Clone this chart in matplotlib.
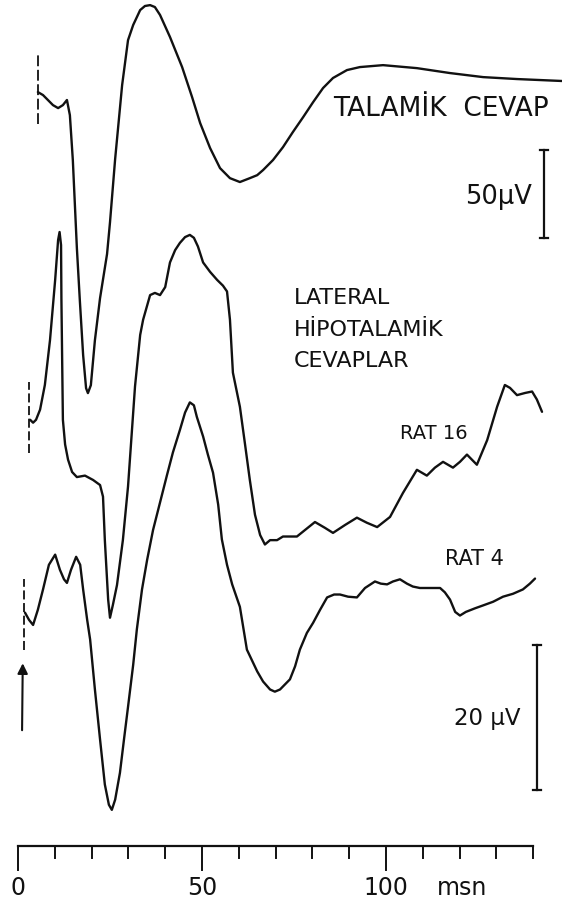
import matplotlib
matplotlib.use("Agg")
import matplotlib.pyplot as plt

# time in ms, amplitude in microvolts relative to each trace's start level

thal_t = [5.4, 6.8, 9.5, 10.9, 12.2, 13.3, 14.1, 14.9, 16.0, 16.8, 17.7, 18.5, 19.0,
          19.8, 20.9, 22.3, 24.2, 25.0, 26.4, 28.3, 29.9, 31.3, 33.2, 34.5, 35.9,
          37.2, 38.6, 41.3, 44.6, 47.3, 49.5, 52.2, 54.9, 57.6, 60.3, 63.0, 65.0,
          66.6, 69.3, 72.0, 74.7, 77.5, 80.2, 82.9, 85.6, 89.4, 92.9, 99.2, 108.4,
          117.4, 126.4, 135.6, 147.8]
thal_uv = [0, -1.7, -7.4, -9.1, -7.4, -4.5, -13.1, -38.6, -88.6, -118.2, -149.4,
           -168.2, -171.0, -166.5, -141.0, -117.0, -92.0, -74.0, -38.0, 4.0, 29.5,
           38.1, 46.6, 48.9, 49.4, 48.3, 43.8, 31.3, 14.2, -2.8, -17.6, -31.8,
           -43.2, -48.9, -51.1, -48.9, -47.2, -44.3, -38.6, -31.3, -22.7, -14.2,
           -5.7, 2.3, 8.0, 12.5, 14.2, 15.3, 13.6, 10.8, 8.5, 7.4, 6.3]

rat16_t = [3.3, 4.1, 4.9, 6.0, 7.3, 8.7, 10.1, 10.9, 11.3, 11.7, 11.8, 12.0, 12.2,
           12.8, 13.6, 14.7, 16.0, 18.2, 20.4, 22.3, 23.1, 23.6, 24.5, 25.0, 25.8,
           26.9, 28.5, 29.9, 31.8, 33.2, 34.0, 35.9, 37.2, 38.6, 40.0, 41.3, 42.7,
           44.0, 45.4, 46.7, 47.8, 48.9, 50.3, 52.2, 54.1, 55.7, 56.8, 57.6, 58.4,
           60.3, 61.7, 63.0, 64.4, 65.8, 67.1, 68.5, 70.4, 72.0, 75.8, 78.0, 80.7,
           83.4, 85.6, 88.9, 92.1, 94.8, 97.6, 101.1, 104.6, 108.4, 111.1, 113.3,
           115.5, 118.2, 120.1, 122.0, 124.7, 127.5, 130.2, 132.3, 133.7, 135.6,
           137.8, 139.7, 141.0, 142.4]
rat16_uv = [0, -0.4, 0, 1.4, 4.8, 11.0, 19.3, 24.8, 25.9, 24.1, 16.6, 8.3, 0,
            -3.4, -5.5, -7.2, -7.9, -7.7, -8.3, -9.0, -10.6, -16.6, -24.8, -27.3,
            -25.5, -22.8, -16.6, -9.2, 4.6, 11.7, 13.8, 17.2, 17.5, 17.2, 18.3, 21.7,
            23.4, 24.4, 25.2, 25.5, 25.1, 23.9, 21.7, 20.4, 19.3, 18.5, 17.7, 13.8,
            6.5, 1.8, -3.4, -8.3, -13.1, -15.9, -17.2, -16.6, -16.6, -16.1, -16.1,
            -15.2, -14.1, -14.9, -15.6, -14.5, -13.5, -14.2, -14.8, -13.4, -10.1,
            -6.9, -7.7, -6.6, -5.8, -6.6, -5.8, -4.8, -6.2, -2.8, 1.8, 4.8, 4.4, 3.4,
            3.7, 3.9, 2.8, 1.1]

rat4_t = [1.9, 3.0, 4.1, 5.4, 6.8, 8.4, 10.1, 11.4, 12.5, 13.3, 14.4, 15.8, 16.9,
          17.7, 18.8, 19.6, 20.9, 22.3, 23.6, 24.7, 25.5, 26.4, 27.7, 28.8, 29.9,
          31.3, 32.3, 33.7, 35.1, 36.7, 38.6, 40.5, 42.1, 44.0, 45.4, 46.7, 47.8,
          48.6, 50.3, 51.6, 53.0, 54.4, 55.4, 56.8, 58.2, 60.3, 62.2, 65.0, 66.6,
          68.5, 69.8, 71.2, 73.9, 75.3, 76.6, 78.5, 80.2, 82.1, 84.0, 85.9, 87.5,
          89.7, 92.1, 94.3, 97.0, 98.6, 100.3, 101.9, 103.8, 105.7, 107.3, 109.2,
          111.1, 114.7, 116.0, 117.4, 118.8, 120.1, 121.7, 124.2, 126.4, 129.1,
          131.8, 134.5, 137.2, 139.1, 140.5]
rat4_uv = [0, -1.0, -1.7, 0.4, 3.2, 6.6, 8.0, 5.9, 4.6, 4.1, 5.9, 7.7, 6.6, 3.2,
           -1.0, -3.7, -10.6, -17.5, -23.7, -26.5, -27.2, -25.8, -22.1, -17.5,
           -13.0, -7.2, -2.3, 3.2, 7.3, 11.4, 15.2, 19.0, 22.1, 25.2, 27.6, 29.0,
           28.6, 27.0, 24.3, 21.8, 19.3, 14.9, 10.1, 6.6, 3.9, 0.8, -5.1, -8.1,
           -9.5, -10.6, -10.9, -10.6, -9.2, -7.4, -5.1, -2.8, -1.4, 0.4, 2.1, 2.5,
           2.5, 2.2, 2.1, 3.4, 4.3, 4.0, 3.9, 4.3, 4.6, 4.0, 3.6, 3.4, 3.4, 3.4,
           2.8, 1.8, 0.1, -0.4, 0.1, 0.6, 1.0, 1.5, 2.2, 2.6, 3.2, 4.0, 4.7]

# where each trace sits on the sheet, in lateral-trace microvolts
thal_base = 112.4
rat16_base = 67.2
rat4_base = 40.6
thal_gain = 0.2428   # thalamic trace was recorded at lower gain

time_ticks = list(range(0, 141, 10))
time_labels = {0: "0", 50: "50", 100: "100"}

ink = "#111111"

fig = plt.figure(figsize=(5.62, 9.07), dpi=100)
ax = fig.add_axes([0, 0, 1, 1])
ax.set_xlim(-4.89, 147.83)
ax.set_ylim(0, 125.1)
ax.axis("off")

lw = 1.7
style = dict(color=ink, lw=lw, solid_capstyle="round", solid_joinstyle="round")
ax.plot(thal_t, [thal_base + v * thal_gain for v in thal_uv], **style)
ax.plot(rat16_t, [rat16_base + v for v in rat16_uv], **style)
ax.plot(rat4_t, [rat4_base + v for v in rat4_uv], **style)

# stimulus markers
ax.plot([5.35, 5.35], [thal_base - 18 * thal_gain, thal_base + 22 * thal_gain],
        color=ink, lw=1.3, ls=(0, (6, 2)))
ax.plot([3.0, 3.0], [rat16_base - 4.6, rat16_base + 5.2], color=ink, lw=1.3,
        ls=(0, (5, 2)))
ax.plot([1.6, 1.6], [rat4_base - 5.1, rat4_base + 4.6], color=ink, lw=1.3,
        ls=(0, (5, 2)))
ax.annotate("", xy=(1.3, rat4_base - 6.6), xytext=(1.1, rat4_base - 16.6),
            arrowprops=dict(arrowstyle="-|>", color=ink, lw=1.5,
                            mutation_scale=15))

# scale bars
def scale_bar(x, y0, length):
    ax.plot([x, x], [y0, y0 + length], color=ink, lw=1.6)
    for yy in (y0, y0 + length):
        ax.plot([x - 1.0, x + 1.0], [yy, yy], color=ink, lw=1.6)

scale_bar(142.9, 92.3, 50 * thal_gain)
scale_bar(141.0, 16.1, 20)

# time ruler
ruler_y = 8.4
ax.plot([0, 140], [ruler_y, ruler_y], color=ink, lw=1.6)
for t in time_ticks:
    drop = 3.3 if t in time_labels else 1.7
    ax.plot([t, t], [ruler_y, ruler_y - drop], color=ink, lw=1.4)
for t, s in time_labels.items():
    ax.text(t, 2.6, s, ha="center", va="center", fontsize=17, color=ink)
ax.text(120.7, 2.6, "msn", ha="center", va="center", fontsize=17, color=ink)

# labels
font = "DejaVu Sans"
ax.text(333 / 562, 1 - 109 / 907, "TALAMİK  CEVAP", transform=ax.transAxes,
        ha="left", va="center", fontsize=19, color=ink, family=font)
ax.text(532 / 562, 1 - 197 / 907, "50µV", transform=ax.transAxes,
        ha="right", va="center", fontsize=18.5, color=ink, family=font)
for i, line in enumerate(["LATERAL", "HİPOTALAMİK", "CEVAPLAR"]):
    ax.text(294 / 562, 1 - (298 + 31.5 * i) / 907, line, transform=ax.transAxes,
            ha="left", va="center", fontsize=16, color=ink, family=font)
ax.text(400 / 562, 1 - 434 / 907, "RAT 16", transform=ax.transAxes,
        ha="left", va="center", fontsize=14, color=ink, family=font)
ax.text(445 / 562, 1 - 559 / 907, "RAT 4", transform=ax.transAxes,
        ha="left", va="center", fontsize=15, color=ink, family=font)
ax.text(520 / 562, 1 - 719 / 907, "20 µV", transform=ax.transAxes,
        ha="right", va="center", fontsize=16.5, color=ink, family=font)

fig.savefig("out.png", dpi=100, facecolor="white")
